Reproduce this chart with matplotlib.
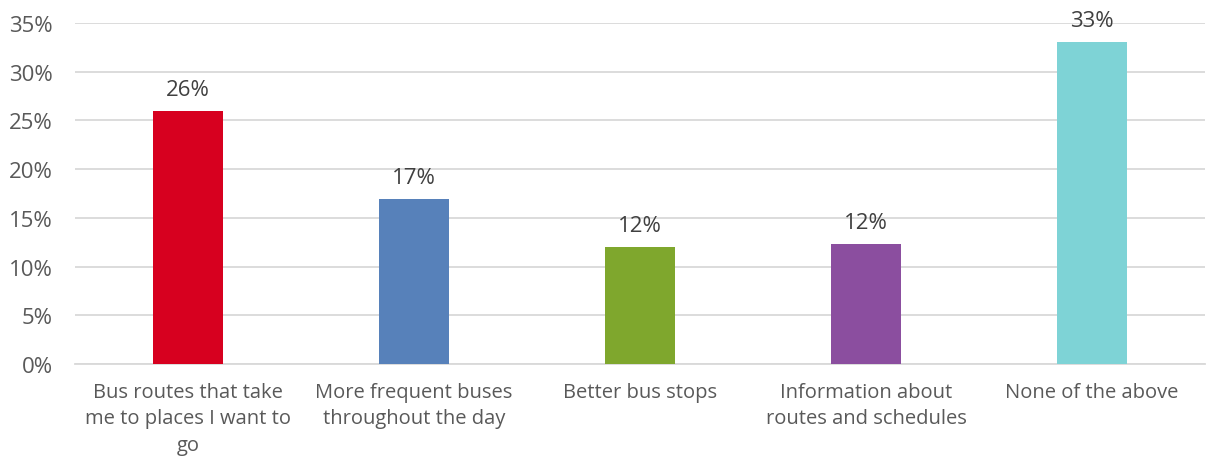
import matplotlib
matplotlib.use("Agg")
import matplotlib.pyplot as plt
from matplotlib.ticker import PercentFormatter

categories = [
    "Bus routes that take\nme to places I want to\ngo",
    "More frequent buses\nthroughout the day",
    "Better bus stops",
    "Information about\nroutes and schedules",
    "None of the above",
]
values = [0.26, 0.169, 0.12, 0.123, 0.33]
labels = ["26%", "17%", "12%", "12%", "33%"]
colors = ["#D7001F", "#5781BA", "#7FA72D", "#8B4E9F", "#7ED3D6"]

plt.rcParams["font.family"] = ["Open Sans", "DejaVu Sans"]

fig = plt.figure(figsize=(12.11, 4.6), dpi=100)
ax = fig.add_axes([0.062, 0.2065, 0.933, 0.7415])

x = list(range(len(categories)))
bars = ax.bar(x, values, width=0.31, color=colors, zorder=3)

for xi, v, lab in zip(x, values, labels):
    ax.annotate(lab, (xi, v), xytext=(0, 8), textcoords="offset points",
                ha="center", va="bottom", fontsize=16, color="#404040")

ax.set_xlim(-0.5, len(categories) - 0.5)
ax.set_ylim(0, 0.35)
ax.set_yticks([i * 0.05 for i in range(8)])
ax.yaxis.set_major_formatter(PercentFormatter(1.0, decimals=0))
ax.set_xticks(x)
ax.set_xticklabels(categories, fontsize=14.5, color="#595959", linespacing=1.42)
ax.tick_params(axis="y", labelsize=16, labelcolor="#595959", length=0, pad=16)
ax.tick_params(axis="x", length=0, pad=13)

ax.grid(axis="y", color="#D9D9D9", linewidth=1.3, zorder=0)
for side in ["top", "right", "left"]:
    ax.spines[side].set_visible(False)
ax.spines["bottom"].set_color("#D9D9D9")
ax.spines["bottom"].set_linewidth(1.3)

fig.savefig("out.png", dpi=100)
